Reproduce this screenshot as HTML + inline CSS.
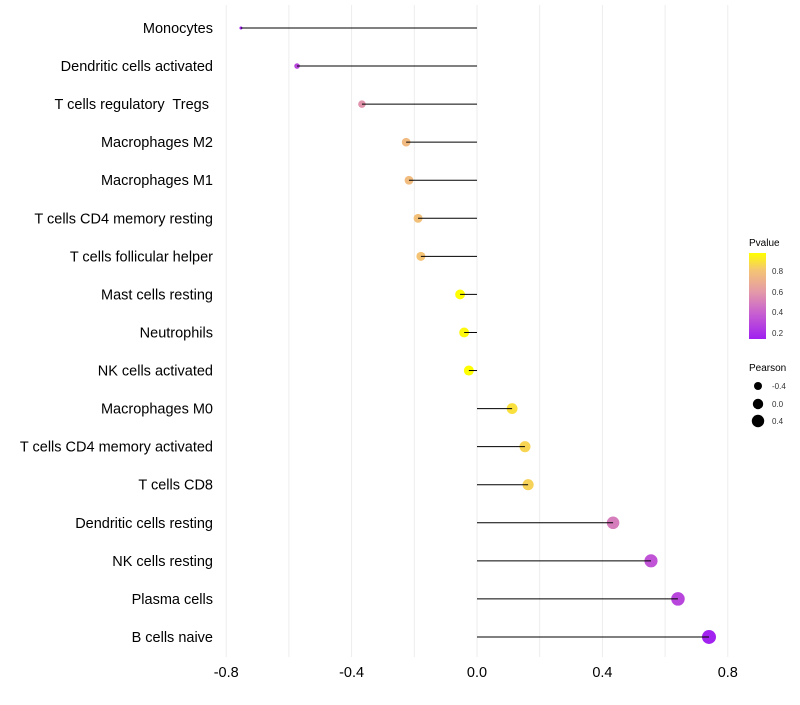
<!DOCTYPE html>
<html><head><meta charset="utf-8"><style>
body{margin:0;background:#fff;font-family:"Liberation Sans",sans-serif}
svg text{font-family:"Liberation Sans",sans-serif}
</style></head><body>
<svg id="c" width="800" height="700">
<defs><linearGradient id="pg" x1="0" y1="1" x2="0" y2="0">
<stop offset="0" stop-color="#a020f0"/><stop offset="0.3" stop-color="#c860d0"/><stop offset="0.55" stop-color="#e49aa8"/><stop offset="0.8" stop-color="#f4c474"/><stop offset="1" stop-color="#ffff00"/></linearGradient></defs>
<g id="grid"></g><g id="marks"></g><g id="axes"></g>
<g>
<text x="749" y="246" font-size="10">Pvalue</text>
<rect x="749" y="253" width="17" height="86" fill="url(#pg)"/>
<g font-size="8" fill="#333"><text x="772" y="274">0.8</text><text x="772" y="295">0.6</text><text x="772" y="315">0.4</text><text x="772" y="336">0.2</text></g>
</g>
<g>
<text x="749" y="371" font-size="10">Pearson</text>
<circle cx="758" cy="386" r="4"/><circle cx="758" cy="404" r="5.2"/><circle cx="758" cy="421" r="6.2"/>
<g font-size="8" fill="#333"><text x="772" y="389">-0.4</text><text x="772" y="407">0.0</text><text x="772" y="424">0.4</text></g>
</g>
</svg>
<script>
const categories=["Monocytes","Dendritic cells activated","T cells regulatory  Tregs ","Macrophages M2","Macrophages M1","T cells CD4 memory resting","T cells follicular helper","Mast cells resting","Neutrophils","NK cells activated","Macrophages M0","T cells CD4 memory activated","T cells CD8","Dendritic cells resting","NK cells resting","Plasma cells","B cells naive"];
const pearson=[-0.753,-0.574,-0.367,-0.226,-0.217,-0.188,-0.179,-0.054,-0.041,-0.026,0.112,0.153,0.163,0.434,0.555,0.641,0.740];
const pvalues=[0.15,0.3,0.58,0.75,0.76,0.78,0.8,0.97,0.95,0.97,0.88,0.85,0.84,0.5,0.35,0.3,0.16];
const ticks=[-0.8,-0.4,0,0.4,0.8];
const minorTicks=[-0.6,-0.2,0.2,0.6];
const NS="http://www.w3.org/2000/svg";
const x=v=>477+v*313.5;
const y=i=>28+i*38.06;
const rad=v=>Math.sqrt(2.25+31.4*Math.max(0,v+0.75));
function lerp(a,b,t){return a.map((c,k)=>Math.round(c+(b[k]-c)*t));}
const stops=[[0.15,[160,32,240]],[0.4,[200,96,208]],[0.6,[228,154,168]],[0.8,[244,196,116]],[0.97,[255,255,0]]];
function col(p){if(p<=stops[0][0])return "rgb("+stops[0][1]+")";for(let k=1;k<stops.length;k++){if(p<=stops[k][0]){const t=(p-stops[k-1][0])/(stops[k][0]-stops[k-1][0]);return "rgb("+lerp(stops[k-1][1],stops[k][1],t)+")";}}return "rgb(255,255,0)";}
function mk(t,a,parent){const e=document.createElementNS(NS,t);for(const k in a)e.setAttribute(k,a[k]);document.getElementById(parent).appendChild(e);return e;}
minorTicks.concat(ticks).forEach(t=>{const l=mk("line",{x1:x(t),x2:x(t),y1:5,y2:657,stroke:"#ededed","stroke-width":1},"grid");

});
categories.forEach((c,i)=>{
const cc=mk("circle",{cx:x(pearson[i]),cy:y(i),r:rad(pearson[i]),fill:col(pvalues[i])},"marks");


const l=mk("line",{x1:x(0),x2:x(pearson[i]),y1:y(i),y2:y(i),stroke:"#000","stroke-width":1},"marks");


const t=mk("text",{x:213,y:y(i)+5,"text-anchor":"end","font-size":14.5,"xml:space":"preserve"},"axes");
t.style.whiteSpace="pre";
t.textContent=c;


});
ticks.forEach(v=>{const t=mk("text",{x:x(v),y:677,"text-anchor":"middle","font-size":14.5},"axes");
t.textContent=v===0?"0.0":v.toFixed(1);

});
</script>
</body></html>
